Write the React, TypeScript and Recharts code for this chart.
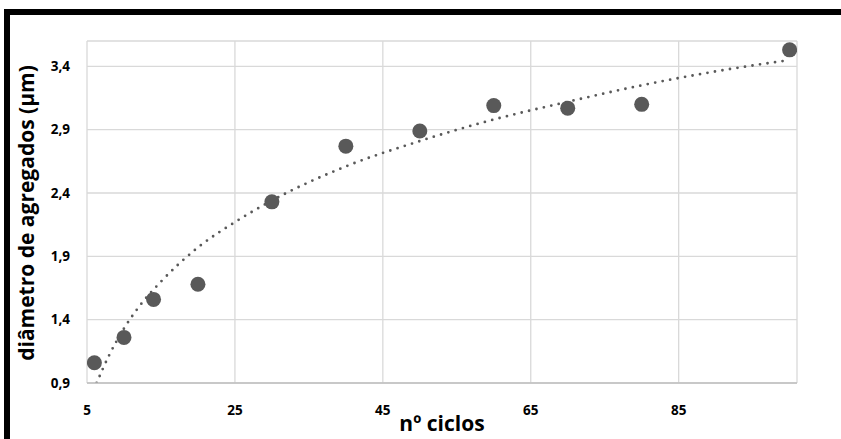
import { CartesianGrid, ComposedChart, Line, Scatter, XAxis, YAxis } from "recharts";

// measured points: number of cycles vs. aggregate diameter (µm)
const cycles = [6, 10, 14, 20, 30, 40, 50, 60, 70, 80, 100];
const diameter = [1.06, 1.26, 1.56, 1.68, 2.33, 2.77, 2.89, 3.09, 3.07, 3.1, 3.53];

// logarithmic trendline
const trendX = [6.3, 8, 10, 12, 15, 20, 25, 30, 40, 50, 60, 70, 80, 90, 100];
const trendY = [0.9, 1.12, 1.33, 1.5, 1.7, 1.97, 2.17, 2.34, 2.61, 2.81, 2.98, 3.12, 3.25, 3.36, 3.45];

const xTicks = [5, 25, 45, 65, 85];
const yTicks = [0.9, 1.4, 1.9, 2.4, 2.9, 3.4];

const points = cycles.map((x, i) => ({ x, y: diameter[i] }));
const trend = trendX.map((x, i) => ({ x, y: trendY[i] }));

const font = "'Open Sans', sans-serif";
const tickStyle = { fill: "#000", fontSize: 13.5, fontWeight: 700, fontFamily: font };

export default function App() {
  return (
    <div style={{ position: "absolute", left: 0, top: 0, width: 841, height: 439, overflow: "hidden", background: "#fff" }}>
      <div
        style={{
          position: "absolute",
          left: 4,
          top: 9,
          width: 900,
          height: 500,
          border: "6px solid #000",
          boxSizing: "border-box",
        }}
      />
      <div style={{ position: "absolute", left: 0, top: 0 }}>
        <ComposedChart width={841} height={439} margin={{ top: 41, right: 44, left: 17, bottom: 26 }}>
          <CartesianGrid stroke="#d9d9d9" strokeWidth={1.3} />
          <XAxis
            type="number"
            dataKey="x"
            domain={[5, 101]}
            ticks={xTicks}
            allowDataOverflow
            stroke="#bfbfbf"
            strokeWidth={1.5}
            tickLine={false}
            tickSize={0}
            tickMargin={22}
            tick={tickStyle}
            height={30}
          />
          <YAxis
            type="number"
            dataKey="y"
            domain={[0.9, 3.6]}
            ticks={yTicks}
            allowDataOverflow
            axisLine={false}
            tickLine={false}
            tickSize={0}
            tickMargin={17}
            width={70}
            tick={tickStyle}
            tickFormatter={(v: number) => v.toFixed(1).replace(".", ",")}
          />
          <Scatter
            data={points}
            dataKey="y"
            fill="#595959"
            isAnimationActive={false}
            shape={(p: any) => <circle cx={p.cx} cy={p.cy} r={7.5} fill="#595959" />}
          />
          <Line
            data={trend}
            dataKey="y"
            type="monotone"
            stroke="#595959"
            strokeWidth={2.8}
            strokeDasharray="0 7.6"
            strokeLinecap="round"
            dot={false}
            activeDot={false}
            isAnimationActive={false}
          />
        </ComposedChart>
      </div>
      <svg width={841} height={439} style={{ position: "absolute", left: 0, top: 0, pointerEvents: "none" }}>
        <text x={442} y={431} textAnchor="middle" fontFamily={font} fontWeight={700} fontSize={21} fill="#000">
          nº ciclos
        </text>
        <text
          transform="translate(34, 213) rotate(-90)"
          textAnchor="middle"
          fontFamily={font}
          fontWeight={700}
          fontSize={21}
          fill="#000"
        >
          diâmetro de agregados (µm)
        </text>
      </svg>
    </div>
  );
}
